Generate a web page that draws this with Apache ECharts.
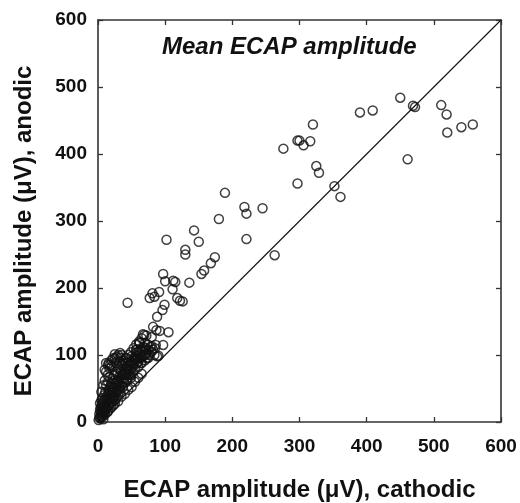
<!DOCTYPE html>
<html>
<head>
<meta charset="utf-8">
<script src="https://cdn.jsdelivr.net/npm/echarts@6/dist/echarts.min.js"></script>
<style>
html,body{margin:0;padding:0;background:#fff;}
#chart{width:520px;height:503px;}
</style>
</head>
<body>
<div id="chart"></div>
<script>
var titleText = 'Mean ECAP amplitude';
var xAxisName = 'ECAP amplitude (\u03bcV), cathodic';
var yAxisName = 'ECAP amplitude (\u03bcV), anodic';
var axisMin = 0, axisMax = 600, axisStep = 100;

// dense cluster near origin (cathodic, anodic)
var clusterPoints = [
[1,3],[2,6],[2,12],[3,8],[3,18],[3,28],[4,5],[4,15],[4,22],[5,10],[5,32],[5,45],[6,18],[6,26],
[7,8],[7,13],[7,36],[8,20],[8,30],[8,4],[9,15],[9,40],[10,24],[10,12],[10,33],[11,18],[11,45],
[12,28],[12,55],[13,22],[13,38],[14,15],[14,32],[15,42],[15,60],[16,25],[16,48],[17,35],[17,67],
[18,20],[18,85],[18,52],[19,40],[20,30],[20,58],[20,83],[21,46],[22,36],[22,65],[23,25],[23,52],
[24,70],[25,42],[25,101],[26,58],[26,33],[27,75],[28,48],[28,97],[29,62],[30,40],[30,80],[31,55],
[32,68],[32,90],[33,103],[33,45],[34,75],[35,60],[35,100],[36,85],[37,52],[37,70],[38,92],[39,65],
[40,78],[40,58],[41,88],[42,70],[43,95],[44,62],[45,80],[46,90],[47,72],[48,88],[49,66],[50,98],
[50,80],[52,75],[53,92],[54,85],[55,94],[56,100],[57,108],[58,88],[59,98],[60,82],[61,105],
[62,118],[63,95],[64,88],[65,97],[66,105],[68,100],[70,92],[70,110],[72,102],[73,95],[75,108],
[76,100],[78,112],[80,105],[82,108],[84,100],[86,115],[88,98],
[12,75],[14,70],[10,62],[8,55],[16,88],[22,95],[17,80],[12,88],
[35,38],[45,48],[55,60],[25,27],[60,66],[65,72],[20,22],[15,16],[10,11],[30,31],[40,42],[50,52],
[20,40],[22,44],[24,38],[26,50],[28,55],[30,60],[32,52],[34,64],[36,70],[38,60],[40,72],[42,80],
[44,74],[46,84],[48,78],[50,90],[52,86],[54,96],[56,92],[58,104],[60,96],[62,100],[64,110],[66,98],
[68,112],[70,118],[72,108],[74,115],[45,70],[43,64],[39,74],[35,55],[31,48],[27,44],[23,35],[19,30],
[15,24],[11,20],[7,22],[9,26],[13,34],[17,44],[21,52],[25,62],[29,72],[33,82],[37,88],[41,96],
[45,100],[49,104],[53,110],[57,116],[61,120],[65,125],[69,130],[30,100],[25,95],[20,92],[15,85],
[10,78],[27,88],[33,96],[50,70],[55,78],[60,90],[65,88],[70,100],[75,96],[80,113],[85,110]
];

// scattered points further out (cathodic, anodic)
var spreadPoints = [
[44,178],[97,221],[100,210],[112,211],[115,209],[111,198],[118,185],[122,181],[126,180],[136,208],
[77,185],[81,192],[84,187],[91,194],[99,175],[96,167],[88,157],[82,142],[87,137],[105,134],[72,129],
[92,136],[97,115],[90,99],[80,127],[67,131],[62,118],[57,108],
[154,221],[158,226],[168,237],[174,246],[130,257],[130,250],[102,272],[143,286],[150,269],[180,303],
[189,342],[218,321],[221,311],[221,273],[245,319],[263,249],[276,408],[297,420],[300,420],[306,413],
[316,419],[320,444],[325,382],[329,372],[297,356],[352,352],[361,336],[390,462],[409,465],[450,484],
[469,472],[472,470],[511,473],[519,459],[520,432],[541,440],[558,444],[461,392]
];

var identityLine = [[axisMin, axisMin],[axisMax, axisMax]];

var FONT = '"Liberation Sans", Arial, Helvetica, sans-serif';
var chart = echarts.init(document.getElementById('chart'), null, {renderer:'canvas'});

function mkAxis(pos, showLabel, name) {
  var a = {
    type: 'value',
    position: pos,
    min: axisMin, max: axisMax, interval: axisStep,
    axisLine: {show: true, onZero: false, lineStyle: {color: '#333', width: 1.6}},
    axisTick: {show: true, inside: true, length: 5, lineStyle: {color: '#333', width: 1.3}},
    splitLine: {show: false},
    axisLabel: {show: showLabel, fontFamily: FONT, fontWeight: 'bold', fontSize: 19, color: '#111'}
  };
  if (name) {
    a.name = name;
    a.nameLocation = 'middle';
    a.nameTextStyle = {fontFamily: FONT, fontWeight: 'bold', fontSize: 24, color: '#111'};
  }
  return a;
}

var xb = mkAxis('bottom', true, xAxisName);
xb.axisLabel.margin = 15;
xb.nameGap = 56;
var xt = mkAxis('top', false);
var yl = mkAxis('left', true, yAxisName);
yl.axisLabel.margin = 11;
yl.nameGap = 62;
yl.nameTextStyle.padding = [0, 20, 0, 0];
var yr = mkAxis('right', false);

chart.setOption({
  animation: false,
  backgroundColor: '#fff',
  title: {
    text: titleText, left: 157, top: 30,
    textStyle: {fontFamily: FONT, fontWeight: 'bold', fontStyle: 'italic', fontSize: 24, color: '#111'}
  },
  grid: {left: 98, top: 20, right: 19, bottom: 81, containLabel: false, outerBoundsMode: 'none'},
  xAxis: [xb, xt],
  yAxis: [yl, yr],
  series: [
    {
      type: 'line', data: identityLine, xAxisIndex: 0, yAxisIndex: 0,
      showSymbol: false, silent: true,
      lineStyle: {color: '#111', width: 1.1}
    },
    {
      type: 'scatter', data: clusterPoints.concat(spreadPoints), xAxisIndex: 0, yAxisIndex: 0,
      symbol: 'circle', symbolSize: 9,
      itemStyle: {color: 'rgba(0,0,0,0)', borderColor: '#111', borderWidth: 1.5}
    }
  ]
});
</script>
</body>
</html>
